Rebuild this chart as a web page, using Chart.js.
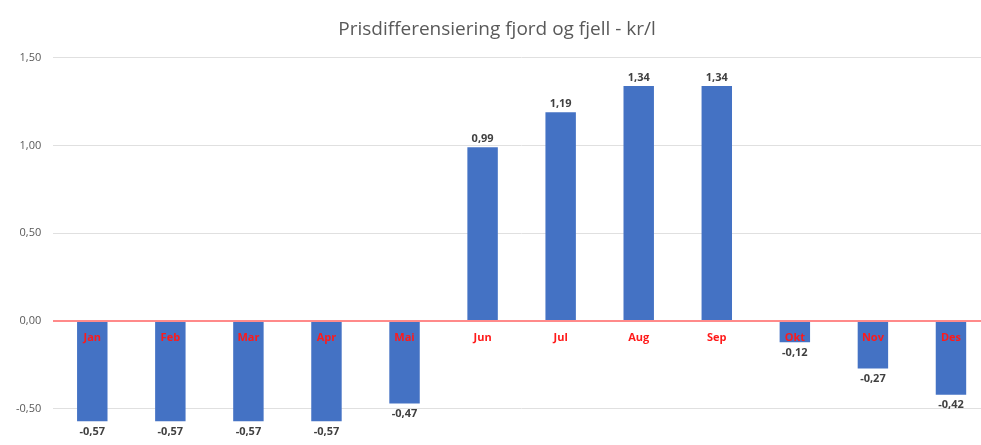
<!DOCTYPE html>
<html>
<head>
<meta charset="utf-8">
<script src="https://cdn.jsdelivr.net/npm/chart.js@4.4.0/dist/chart.umd.min.js"></script>
<style>
  html, body { margin: 0; padding: 0; background: #fff; overflow: hidden; }
  #wrap { width: 990px; height: 445px; position: relative; }
</style>
</head>
<body>
<div id="wrap"><canvas id="chart"></canvas></div>
<script>
  // ── Data ────────────────────────────────────────────
  const months = ['Jan', 'Feb', 'Mar', 'Apr', 'Mai', 'Jun', 'Jul', 'Aug', 'Sep', 'Okt', 'Nov', 'Des'];
  const priceDiff = [-0.57, -0.57, -0.57, -0.57, -0.47, 0.99, 1.19, 1.34, 1.34, -0.12, -0.27, -0.42];
  const yTicks = [-0.5, 0, 0.5, 1, 1.5];

  const fmt = v => v.toFixed(2).replace('.', ',');

  // value labels above / below each bar
  const barLabels = {
    id: 'barLabels',
    afterDatasetsDraw(chart) {
      const ctx = chart.ctx;
      const meta = chart.getDatasetMeta(0);
      ctx.save();
      ctx.font = 'bold 11px "Open Sans"';
      ctx.fillStyle = '#404040';
      ctx.textAlign = 'center';
      meta.data.forEach((bar, i) => {
        const v = priceDiff[i];
        if (v >= 0) { ctx.textBaseline = 'bottom'; ctx.fillText(fmt(v), bar.x, bar.y - 3); }
        else { ctx.textBaseline = 'top'; ctx.fillText(fmt(v), bar.x, bar.y + 5); }
      });
      ctx.restore();
    }
  };

  new Chart(document.getElementById('chart'), {
    type: 'bar',
    data: {
      labels: months,
      datasets: [{ data: priceDiff, backgroundColor: '#4472c4', borderWidth: 0, barPercentage: 0.39, categoryPercentage: 1 }]
    },
    options: {
      responsive: true, maintainAspectRatio: false, animation: false,
      layout: { padding: { top: 0, bottom: 17, left: 4, right: 0 } },
      plugins: {
        legend: { display: false }, tooltip: { enabled: false },
        title: { display: true, text: 'Prisdifferensiering fjord og fjell - kr/l', color: '#595959',
                 font: { family: 'Open Sans', size: 19, weight: 'normal' }, padding: { top: 18, bottom: 17 } }
      },
      scales: {
        x: { position: { y: 0 }, grid: { display: false, drawTicks: false }, border: { display: false },
             ticks: { z: 1, color: '#ff1a1a', font: { family: 'Open Sans', size: 11, weight: 'bold' }, padding: 10, maxRotation: 0 } },
        y: { min: -0.6, max: 1.5, border: { display: false },
             afterBuildTicks: axis => { axis.ticks = yTicks.map(v => ({ value: v })); },
             grid: { drawTicks: false,
                     color: c => c.tick && c.tick.value === 0 ? '#ff8a8a' : '#e0e0e0',
                     lineWidth: c => c.tick && c.tick.value === 0 ? 2 : 1 },
             ticks: { color: '#595959', font: { family: 'Open Sans', size: 11 }, padding: 12, callback: v => fmt(v) } }
      }
    },
    plugins: [barLabels]
  });
</script>
</body>
</html>
